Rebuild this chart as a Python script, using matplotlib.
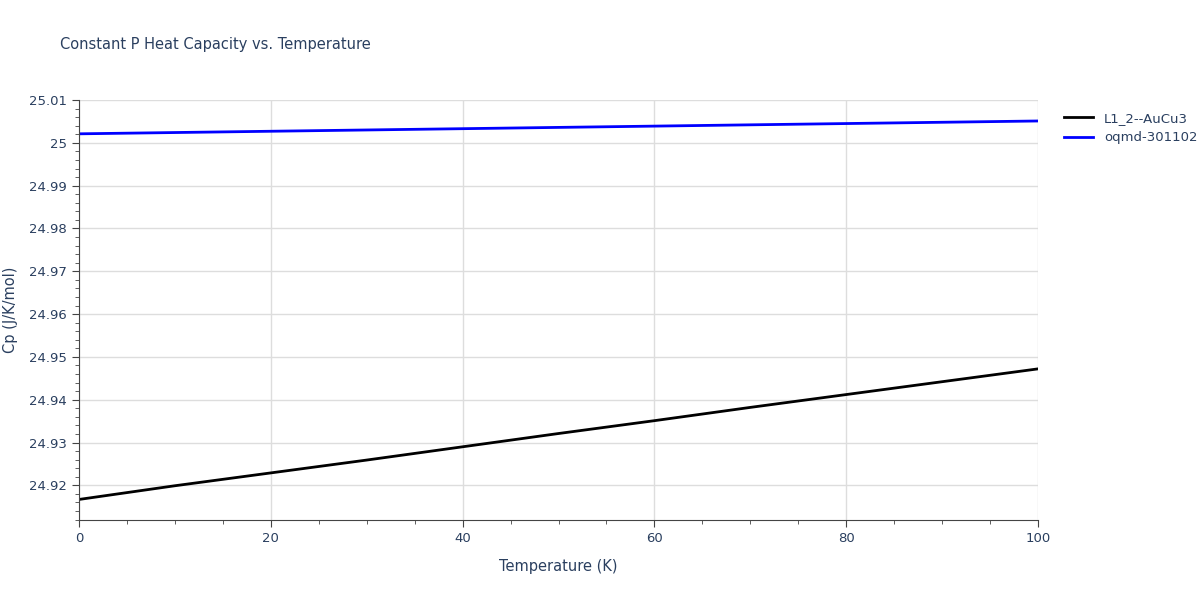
import matplotlib
matplotlib.use("Agg")
import matplotlib.pyplot as plt
from matplotlib.ticker import MultipleLocator

temps = [0, 10, 20, 30, 40, 50, 60, 70, 80, 90, 100]
cp_l12 = [24.9167, 24.9199, 24.9229, 24.9259, 24.9290, 24.9321, 24.9351, 24.9382, 24.9412, 24.9442, 24.9472]
cp_oqmd = [25.0021, 25.0024, 25.0027, 25.0030, 25.0033, 25.0036, 25.0039, 25.0042, 25.0045, 25.0048, 25.0051]

fig = plt.figure(figsize=(12, 6), dpi=100)
ax = fig.add_axes([79/1200, 1-520/600, (1038-79)/1200, 420/600])
ax.plot(temps, cp_l12, color="black", lw=2, label="L1_2--AuCu3")
ax.plot(temps, cp_oqmd, color="blue", lw=2, label="oqmd-301102")
ax.set_xlim(0, 100)
ax.set_ylim(24.9119, 25.01)
ax.xaxis.set_major_locator(MultipleLocator(20))
ax.xaxis.set_minor_locator(MultipleLocator(5))
ax.yaxis.set_minor_locator(MultipleLocator(0.002))
ax.set_yticks([24.92, 24.93, 24.94, 24.95, 24.96, 24.97, 24.98, 24.99, 25.0, 25.01])
ax.set_yticklabels(["24.92", "24.93", "24.94", "24.95", "24.96", "24.97", "24.98", "24.99", "25", "25.01"])
ax.grid(True, which="major", color="#dddddd", lw=1)
for s in ["top", "right"]:
    ax.spines[s].set_visible(False)
ax.spines["left"].set_color("#444444")
ax.spines["bottom"].set_color("#444444")
ax.tick_params(which="both", direction="out", colors="#444444", labelcolor="#2a3f5f", labelsize=9.5)
ax.tick_params(which="major", length=5)
ax.tick_params(which="minor", length=3)
ax.set_xlabel("Temperature (K)", color="#2a3f5f", fontsize=10.5, labelpad=10)
ax.set_ylabel("Cp (J/K/mol)", color="#2a3f5f", fontsize=10.5, labelpad=8)
fig.text(60/1200, 1-45/600, "Constant P Heat Capacity vs. Temperature", color="#2a3f5f", fontsize=10.5, va="center")
leg = ax.legend(loc="upper left", bbox_to_anchor=(1.015, 1.0), frameon=False, fontsize=9.5, handlelength=2.2)
for t in leg.get_texts():
    t.set_color("#2a3f5f")
fig.savefig("out.png")
